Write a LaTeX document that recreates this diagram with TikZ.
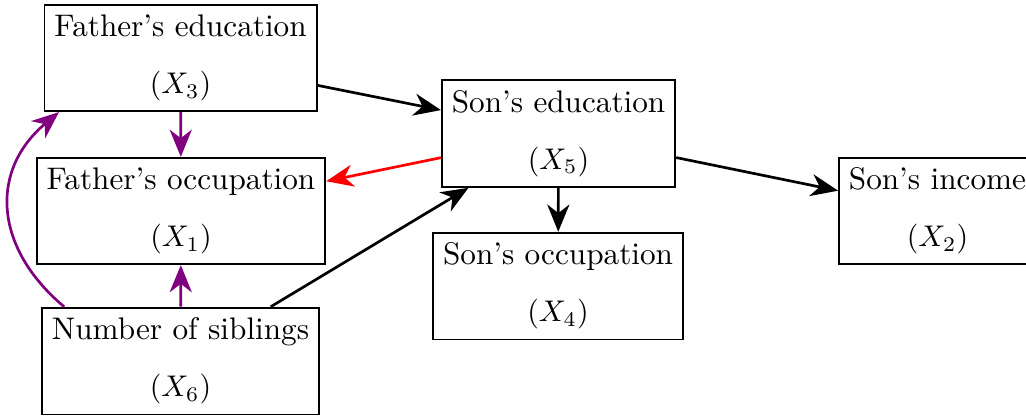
\documentclass[tikz,border=0pt]{standalone}
\usepackage{tikz}
\usetikzlibrary{arrows.meta,positioning}
\tikzset{
    varbox/.style={draw, semithick, align=center, inner sep=0.3333em,
        font=\fontsize{10.45}{12.5}\selectfont},
    causearrow/.style={-{Stealth[length=3.2mm, width=2.6mm, inset=1mm]}, line width=0.9pt}
}

\begin{document}
\begin{tikzpicture}
\useasboundingbox (0,0) rectangle (12.07,4.906);
\node[varbox] (fatheredu) at (2.124,4.224) {Father's education\\[6.7pt]$(X_3)$};
\node[varbox] (fatherocc) at (2.129,2.424) {Father's occupation\\[6.7pt]$(X_1)$};
\node[varbox] (siblings) at (2.124,0.659) {Number of siblings\\[6.7pt]$(X_6)$};
\node[varbox] (sonedu) at (6.571,3.335) {Son's education\\[6.7pt]$(X_5)$};
\node[varbox] (sonocc) at (6.565,1.541) {Son's occupation\\[6.7pt]$(X_4)$};
\node[varbox, anchor=west] (sonincome) at (9.859,2.424) {Son's income\\[6.7pt]$(X_2)$};
\draw[causearrow] (fatheredu) -- (sonedu);
\draw[causearrow, red] (sonedu) -- (fatherocc);
\draw[causearrow] (sonedu) -- (sonincome);
\draw[causearrow] (sonedu) -- (sonocc);
\draw[causearrow] (siblings) -- (sonedu);
\draw[causearrow, violet] (fatheredu) -- (fatherocc);
\draw[causearrow, violet] (siblings) -- (fatherocc);
\draw[causearrow, violet] (siblings.155) to[out=140, in=220, looseness=1.2] (fatheredu.204);
\end{tikzpicture}
\end{document}
